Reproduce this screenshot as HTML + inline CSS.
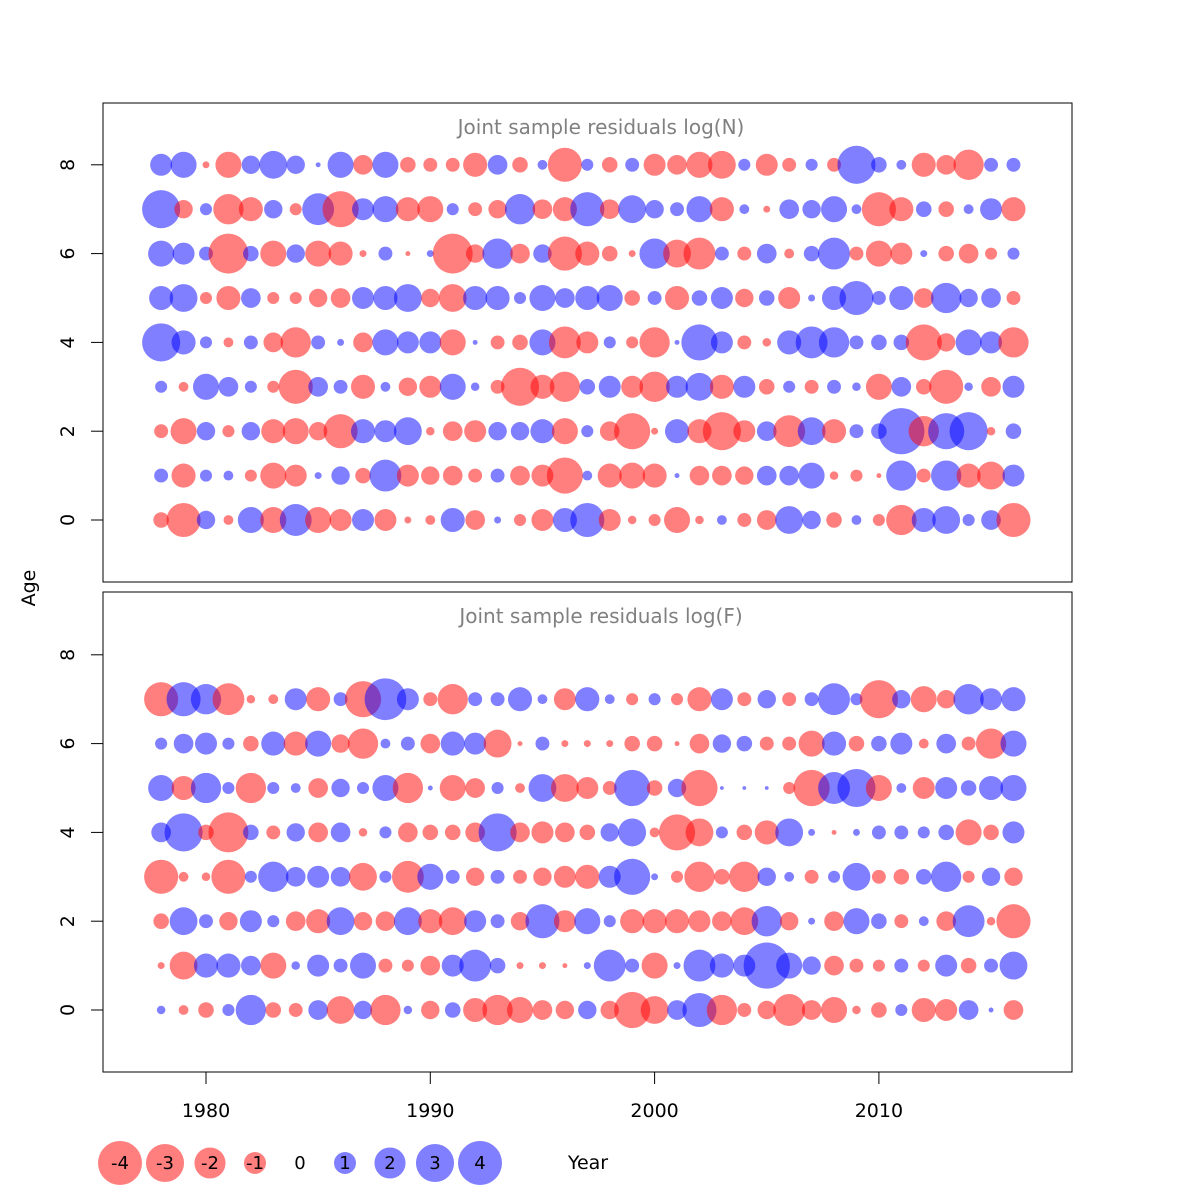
<!DOCTYPE html>
<html><head><meta charset="utf-8">
<style>
html,body{margin:0;padding:0;background:#fff;}
svg{display:block;font-family:"DejaVu Sans","Liberation Sans",sans-serif;}
</style></head>
<body>
<svg id="chart" width="1200" height="1200" viewBox="0 0 1200 1200" xmlns="http://www.w3.org/2000/svg">
<rect width="1200" height="1200" fill="#fff"/>
</svg>
<script>
const years = [];
for (let y = 1978; y <= 2016; y++) years.push(y);
const xTicks = [1980, 1990, 2000, 2010];
const yTicks = [0, 2, 4, 6, 8];
const legendValues = [-4, -3, -2, -1, 0, 1, 2, 3, 4];
// log(N) residuals, ages 0..8
const residN = [
[-0.5,-2.4,0.7,-0.2,1.4,-1.4,2.1,-1.4,-1,1,-1,-0.1,-0.2,1.2,-0.8,0.1,-0.3,-1,1.2,2.4,-1,-0.15,-0.3,-1.4,-0.15,0.2,-0.4,-0.8,1.6,0.7,-0.5,0.2,-0.3,-1.9,1.2,1.6,0.3,0.8,-2.4],
[0.4,-1.2,0.3,0.2,-0.3,-1.4,-1,0.1,0.7,-0.5,2.1,-1,-0.7,-0.8,-0.4,0.4,-0.8,-1,-2.7,0.2,-1.2,-1.4,-1.2,0.05,-0.8,-0.8,-0.7,0.8,0.8,1.4,-0.15,-0.3,-0.05,1.9,-0.4,1.9,-1.2,-1.6,1],
[-0.4,-1.4,0.7,-0.3,0.7,-1.2,-1.4,-0.7,-2.4,1.2,1,1.6,-0.15,-0.8,-1,0.7,0.7,1.2,-1.4,0.3,-0.8,-2.7,-0.1,1.2,-1.2,-3,-1,0.8,-2.1,1.6,-1.2,0.4,0.5,4.4,-1.9,2.7,3,-0.15,0.5],
[0.3,-0.2,1.4,0.8,0.3,-0.3,-2.4,0.8,0.4,-1.2,0.2,-0.7,-1,1.4,0.15,-0.4,-3,-1.2,-1.9,0.5,1,-1,-1.9,1,1.6,-1.2,1,-0.5,0.3,-0.4,0.4,0.15,-1.4,0.8,-0.5,-2.4,0.15,-0.8,1],
[3,1.2,0.3,-0.2,0.4,-0.8,-1.9,0.4,0.1,-0.8,1.4,1,1,-1.4,0.05,-0.4,-0.5,1.4,-2.1,-1,0.3,-0.3,-1.9,0.05,2.7,1,-0.4,-0.15,1.2,2.1,1.9,0.4,0.5,0.5,-2.7,-0.7,1.4,1,-1.9],
[1.2,1.6,-0.3,-1.2,0.8,-0.3,-0.3,-0.7,-0.8,1,1.2,1.6,-0.7,-1.6,1.2,1.2,0.3,1.4,0.8,1.2,1.4,-0.5,0.4,-1.2,0.5,1,-0.7,0.5,-1,0.1,1.2,2.4,0.4,1.2,-0.8,1.9,0.7,0.8,-0.4],
[1.4,1,0.4,-3.3,0.5,-1.4,0.7,-1.4,-1.2,-0.1,0.4,-0.05,0.1,-3.3,-0.7,1.9,-0.8,0.7,-2.4,-1.2,-0.5,-0.1,1.9,-1.6,-2.1,0.4,-0.4,0.8,-0.2,0.5,2.1,-0.4,-1.4,-1,0.1,-0.5,-0.8,-0.3,0.3],
[3,-0.7,0.3,-1.9,-1.2,0.7,-0.3,2.1,-2.7,1,1.4,-1.2,-1.4,0.3,-0.4,-0.7,1.9,-0.8,-1.2,2.4,-0.8,1.6,0.7,0.4,1.4,-1.2,0.2,-0.1,0.8,0.7,1.4,0.2,-2.4,-1.2,0.5,-0.5,0.2,1,-1.2],
[1,1.4,-0.1,-1.4,0.7,1.6,0.7,0.05,1.4,-0.8,1.4,-0.5,-0.4,-0.4,-1.2,0.8,-0.5,0.2,-2.4,0.3,-0.5,0.4,-1,-0.8,-1.4,-1.6,0.3,-1,-0.4,0.3,-0.4,3,0.5,0.2,-1.2,-0.8,-1.9,0.4,0.4]
];
// log(F) residuals, ages 0..7
const residF = [
[0.15,-0.2,-0.5,0.3,1.9,-0.5,-0.4,0.8,-1.6,0.7,-1.9,0.15,-0.7,0.5,-1.2,-1.9,-1.4,-0.8,-0.7,0.7,-0.7,-2.7,-1.6,0.8,2.4,-1.9,-0.4,-0.7,-2.1,-0.8,-1.4,-0.15,-0.5,0.3,-1.2,-1,0.8,0.05,-0.8],
[-0.1,-1.6,1.2,1.2,0.8,-1.4,0.15,1,0.4,1.4,-0.4,-0.3,-0.8,1,2.1,0.5,-0.1,-0.1,-0.05,0.1,2.1,0.4,-1.4,0.1,2.1,1.2,1,4.4,1.4,0.7,-0.8,-0.4,-0.3,0.4,-0.3,1,-0.5,0.4,1.6],
[-0.5,1.6,0.4,-0.7,1,0.3,-0.8,-1.2,1.6,-0.7,-0.8,1.6,-1.2,-1.6,1,0.4,-0.7,2.4,-1,1.4,0.3,-1.2,-1.2,-1.2,-1,-0.8,-1.6,1.9,-0.7,0.1,-0.8,1.4,0.5,-0.4,0.2,-0.8,2.1,-0.15,-2.4],
[-2.4,-0.2,-0.15,-2.4,0.3,1.9,0.8,1,0.8,-1.6,0.3,-2.1,1.4,0.4,-0.7,0.4,-0.4,-0.7,-1,-1.2,1,2.7,0.1,-0.3,-1.9,-0.5,-1.9,0.7,0.2,-0.4,0.3,1.6,-0.4,-0.5,0.5,1.9,-0.3,0.7,-0.7],
[0.8,3,-0.5,-3.3,0.5,-0.4,0.7,-0.8,0.8,-0.15,0.3,-0.8,-0.5,-0.5,-0.8,3,-0.8,-1,-0.8,-0.5,0.7,1.6,-0.2,-2.7,-1.6,0.3,-0.5,-1.2,1.6,0.1,-0.05,0.1,0.4,0.4,0.3,0.5,-1.4,-0.5,1],
[1.4,-1.2,1.9,0.3,-1.9,0.3,0.2,-0.8,0.7,0.3,1.4,-1.9,0.05,-1.4,-0.8,0.3,-0.2,1.6,-1.6,-1,-0.4,2.7,-0.5,0.7,-2.7,0.03,0.03,0.03,-0.3,-2.7,2.1,3,-1.4,0.2,-1,1,0.5,1.2,1.4],
[0.3,0.8,1,0.3,-0.5,1.2,-1.2,1.4,-0.7,-1.9,0.2,0.4,-0.8,1.2,1,-1.6,-0.05,0.4,-0.1,-0.1,-0.1,-0.5,-0.5,-0.05,-0.8,0.7,0.5,-0.4,-0.4,-1.4,1.2,-0.5,0.5,1,-0.2,0.8,-0.4,-1.9,1.4],
[-2.4,2.4,1.9,-2.1,-0.15,-0.2,1,-1.2,0.4,-2.7,3.6,1,-0.4,-1.9,0.4,0.4,1.2,0.2,-1,1.2,0.2,-0.3,0.3,-0.3,-1.2,1,-0.4,0.7,-0.4,0.4,2.1,0.3,-3,0.7,-1.4,-0.7,1.9,1,1.2]
];

const NS = "http://www.w3.org/2000/svg";
const svg = document.getElementById('chart');
function mk(tag, attrs, parent) {
  const e = document.createElementNS(NS, tag);
  for (const k in attrs) e.setAttribute(k, attrs[k]);
  (parent || svg).appendChild(e);
  return e;
}
const xScale = y => 206 + (y - 1980) * 22.43;
const rScale = v => 11 * Math.sqrt(Math.abs(v));
const RED = 'rgba(255,0,0,0.5)', BLUE = 'rgba(0,0,255,0.5)';
const panels = [
  {top: 103, bottom: 582, y0: 520, title: 'Joint sample residuals log(N)', data: residN, key: 'n'},
  {top: 592, bottom: 1072, y0: 1010, title: 'Joint sample residuals log(F)', data: residF, key: 'f'}
];
panels.forEach(p => {
  const g = mk('g', {});
  
  
  const yScale = a => p.y0 - a * 44.4;
  const frame = mk('rect', {x: 103, y: p.top, width: 969, height: p.bottom - p.top, fill: 'none', stroke: '#000', 'stroke-width': 1}, g);
  
  
  const t = mk('text', {x: 601, y: p.top + 31, 'text-anchor': 'middle', 'font-size': 20, fill: '#808080'}, g);
  t.textContent = p.title;
  
  
  yTicks.forEach(v => {
    const yy = yScale(v);
    const tk = mk('line', {x1: 91, x2: 103, y1: yy, y2: yy, stroke: '#000'}, g);
    
    
    const tl = mk('text', {x: 0, y: 0, transform: `translate(74,${yy}) rotate(-90)`, 'text-anchor': 'middle', 'font-size': 19, fill: '#000'}, g);
    tl.textContent = v;
    
    
  });
  p.data.forEach((row, age) => {
    row.forEach((v, i) => {
      if (v === 0) return;
      const c = mk('circle', {cx: xScale(years[i]), cy: yScale(age), r: rScale(v), fill: v < 0 ? RED : BLUE}, g);
      
      
    });
  });
});
const xl = mk('line', {x1: xScale(1980), x2: xScale(2010), y1: 1072, y2: 1072, stroke: '#000'});


xTicks.forEach(v => {
  const tk = mk('line', {x1: xScale(v), x2: xScale(v), y1: 1072, y2: 1084, stroke: '#000'});
  
  
  const tl = mk('text', {x: xScale(v), y: 1117, 'text-anchor': 'middle', 'font-size': 19, fill: '#000'});
  tl.textContent = v;
  
  
});
const ya = mk('text', {x: 0, y: 0, transform: 'translate(35,588) rotate(-90)', 'text-anchor': 'middle', 'font-size': 19, fill: '#000'});
ya.textContent = 'Age';


const xa = mk('text', {x: 588, y: 1169, 'text-anchor': 'middle', 'font-size': 19, fill: '#000'});
xa.textContent = 'Year';


legendValues.forEach((v, i) => {
  const cx = 120 + i * 45;
  if (v !== 0) {
    const c = mk('circle', {cx: cx, cy: 1163, r: rScale(v), fill: v < 0 ? RED : BLUE});
    
    
  }
  const lt = mk('text', {x: cx, y: 1169, 'text-anchor': 'middle', 'font-size': 18, fill: '#000'});
  lt.textContent = v;
  
  
});
</script>
</body></html>
